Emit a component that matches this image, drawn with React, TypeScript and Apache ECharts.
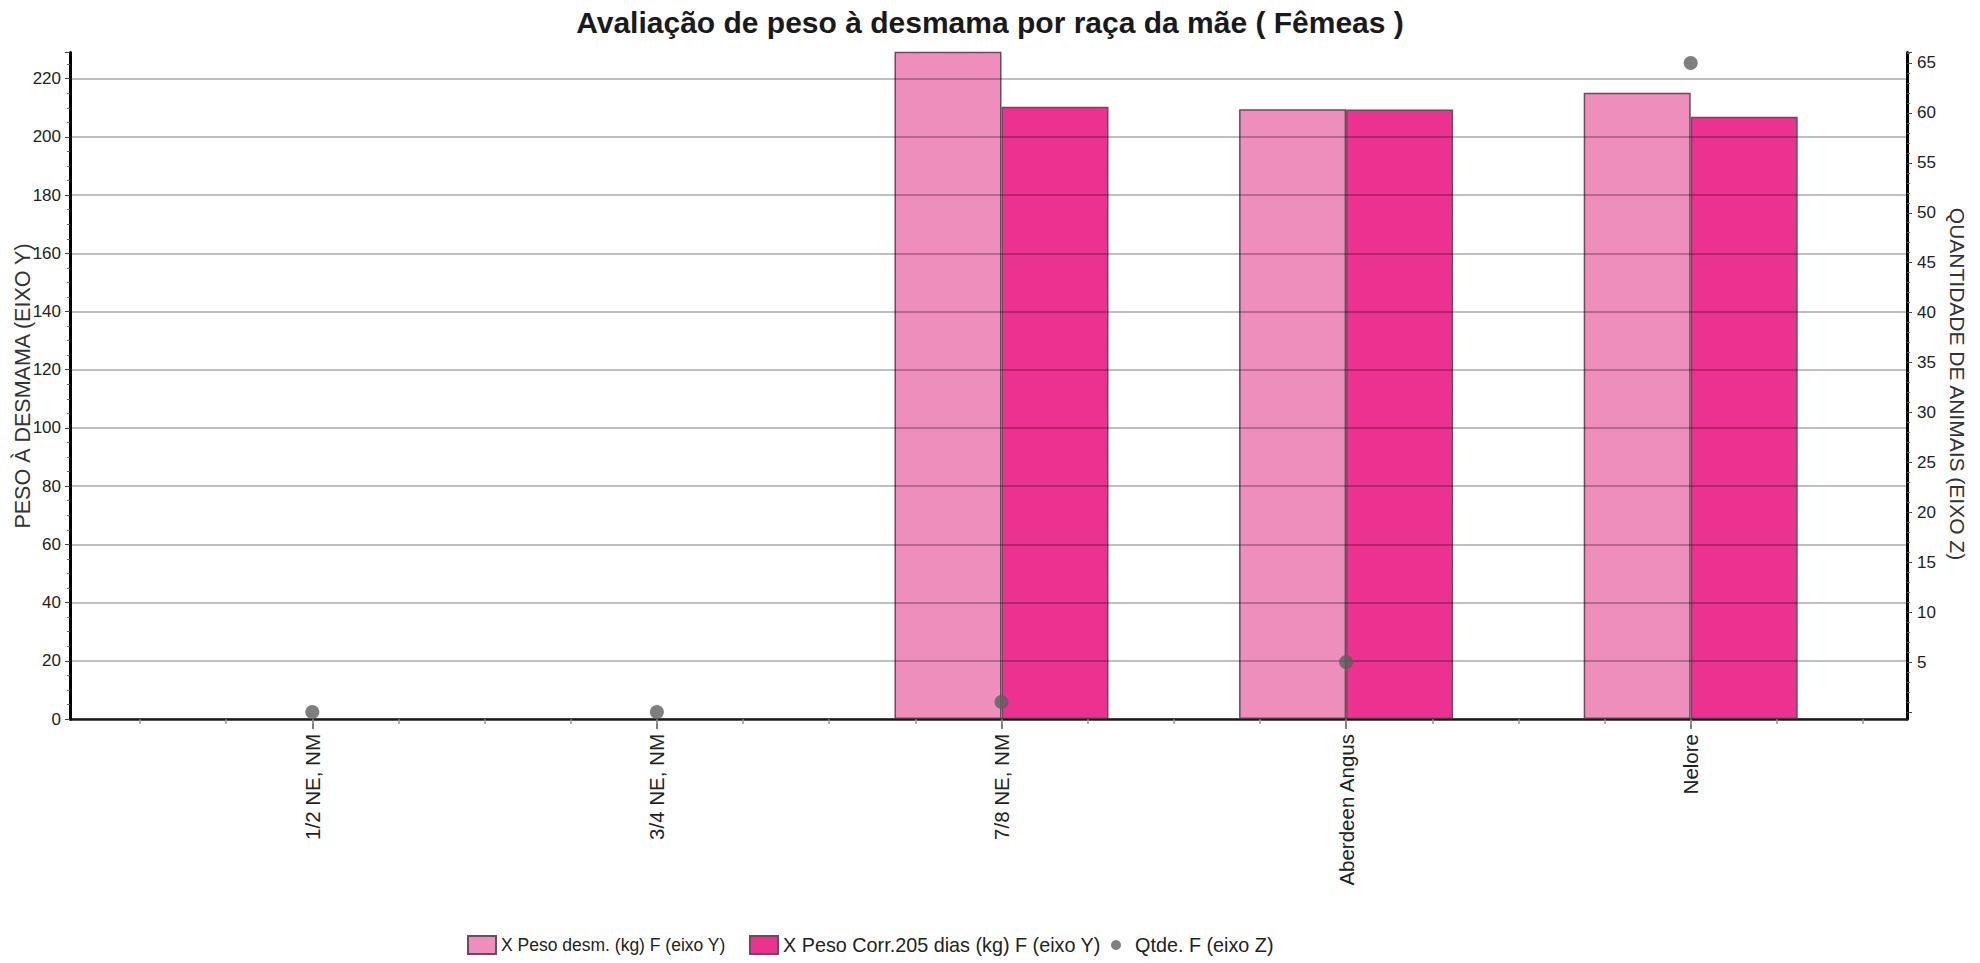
import React, { useEffect, useRef } from "react";
import * as echarts from "echarts";

// ---- data ----
const categories = ["1/2 NE, NM", "3/4 NE, NM", "7/8 NE, NM", "Aberdeen Angus", "Nelore"];
const pesoDesm: (number | null)[] = [null, null, 232, 209.5, 215.2];
const pesoCorr: (number | null)[] = [null, null, 210.4, 209.4, 206.9];
const qtde = [0, 0, 1, 5, 65];
const seriesNames = [
  "X Peso desm. (kg) F (eixo Y)",
  "X Peso Corr.205 dias (kg) F (eixo Y)",
  "Qtde. F (eixo Z)",
];
const chartTitle = "Avaliação de peso à desmama por raça da mãe ( Fêmeas )";
const yAxisName = "PESO À DESMAMA (EIXO Y)";
const zAxisName = "QUANTIDADE DE ANIMAIS (EIXO Z)";

const FONT = "'Liberation Sans', Arial, Helvetica, sans-serif";
const W = 1980;
const H = 963;
const plotL = 70;
const plotR = 1907;
const plotT = 52.5;
const plotB = 719;
const catL = 140;
const catR = 1863;
const zeroZ = 712;

export default function App() {
  const ref = useRef<HTMLDivElement>(null);
  useEffect(() => {
    if (!ref.current) return;
    const chart = echarts.init(ref.current, undefined, { renderer: "svg" });
    const labelStyle = { fontSize: 17, color: "#222", fontFamily: FONT };
    const legendText = (size: number) => ({ fontSize: size, color: "#222", fontFamily: FONT });
    chart.setOption({
      animation: false,
      backgroundColor: "#ffffff",
      title: {
        text: chartTitle,
        left: "center",
        top: 2,
        textStyle: { fontSize: 30, fontWeight: "bold", color: "#1a1a1a", fontFamily: FONT },
      },
      grid: [
        { left: plotL, right: W - plotR, top: plotT, bottom: H - plotB },
        { left: catL, right: W - catR, top: plotT, bottom: H - plotB },
        { left: catL, right: W - catR, top: plotT, bottom: H - zeroZ },
      ],
      xAxis: [
        {
          gridIndex: 0, type: "value", min: 0, max: 1, position: "bottom",
          axisLine: { show: true, onZero: false, lineStyle: { color: "#222", width: 2.5 } },
          axisTick: { show: false }, axisLabel: { show: false }, splitLine: { show: false },
        },
        {
          gridIndex: 1, type: "category", data: categories, position: "bottom",
          axisLine: { show: false, onZero: false },
          axisTick: { show: true, alignWithLabel: true, length: 10, lineStyle: { color: "#555", width: 1.5 } },
          axisLabel: { rotate: 90, margin: 15, fontSize: 20.5, color: "#222", fontFamily: FONT },
          splitLine: { show: false },
        },
        {
          gridIndex: 1, type: "value", min: -0.5, max: 4.5, interval: 0.25, position: "bottom",
          axisLine: { show: false, onZero: false },
          axisTick: { show: true, length: 5, lineStyle: { color: "#999", width: 1.5 } },
          axisLabel: { show: false }, splitLine: { show: false },
        },
        { gridIndex: 2, type: "category", data: categories, show: false },
      ],
      yAxis: [
        {
          gridIndex: 0, type: "value", position: "left", min: 0, max: 229, interval: 20, z: 3,
          axisLine: { show: true, onZero: false, lineStyle: { color: "#000", width: 3 } },
          axisTick: { show: true, length: 5, lineStyle: { color: "#444" } },
          minorTick: { show: true, splitNumber: 4, length: 3, lineStyle: { color: "#666" } },
          axisLabel: { ...labelStyle, margin: 9, showMaxLabel: false },
          splitLine: { show: true, showMaxLine: false, lineStyle: { color: "rgba(0,0,0,0.25)", width: 2 } },
        },
        {
          gridIndex: 0, type: "value", position: "right", min: 0, max: 1,
          axisLine: { show: true, onZero: false, lineStyle: { color: "#000", width: 3 } },
          axisTick: { show: false }, axisLabel: { show: false }, splitLine: { show: false },
        },
        { gridIndex: 1, type: "value", min: 0, max: 229, show: false },
        {
          gridIndex: 2, type: "value", position: "right", offset: plotR - catR,
          min: 0, max: 66.05, interval: 5,
          axisLine: { show: false, onZero: false },
          axisTick: { show: true, length: 5, lineStyle: { color: "#444" } },
          minorTick: { show: true, splitNumber: 5, length: 3, lineStyle: { color: "#666" } },
          axisLabel: { ...labelStyle, margin: 10, showMinLabel: false, showMaxLabel: false },
          splitLine: { show: false },
        },
      ],
      legend: [
        {
          data: [seriesNames[0]],
          left: 462, top: 930, itemWidth: 28, itemHeight: 18,
          icon: "rect",
          textStyle: legendText(17.5),
        },
        {
          data: [seriesNames[1]],
          left: 744, top: 930, itemWidth: 28, itemHeight: 18,
          icon: "rect",
          textStyle: legendText(19.8),
        },
        {
          data: [seriesNames[2]],
          left: 1106, top: 930, itemWidth: 28, itemHeight: 10,
          icon: "circle",
          textStyle: legendText(19.8),
        },
      ],
      graphic: [
        {
          type: "text", x: 23, y: 386, rotation: Math.PI / 2,
          style: { text: yAxisName, fontSize: 21.5, fontFamily: FONT, fill: "#333", align: "center", verticalAlign: "middle" },
        },
        {
          type: "text", x: 1957, y: 384, rotation: -Math.PI / 2,
          style: { text: zAxisName, fontSize: 21, fontFamily: FONT, fill: "#333", align: "center", verticalAlign: "middle" },
        },
      ],
      series: [
        {
          name: seriesNames[0], type: "bar", xAxisIndex: 1, yAxisIndex: 2, data: pesoDesm,
          barWidth: 107, barGap: "0%",
          itemStyle: { color: "#EE8EBC", borderColor: "#6d4a5c", borderWidth: 1.5 },
        },
        {
          name: seriesNames[1], type: "bar", xAxisIndex: 1, yAxisIndex: 2, data: pesoCorr,
          barWidth: 107, barGap: "0%",
          itemStyle: { color: "#EC3290", borderColor: "#6d4a5c", borderWidth: 1.5 },
        },
        {
          name: seriesNames[2], type: "scatter", xAxisIndex: 3, yAxisIndex: 3, data: qtde,
          symbol: "circle", symbolSize: 14, z: 5,
          itemStyle: { color: "#5f5f5f" },
        },
      ],
    });
    return () => chart.dispose();
  }, []);
  return <div ref={ref} style={{ position: "fixed", left: 0, top: 0, width: W, height: H }} />;
}
